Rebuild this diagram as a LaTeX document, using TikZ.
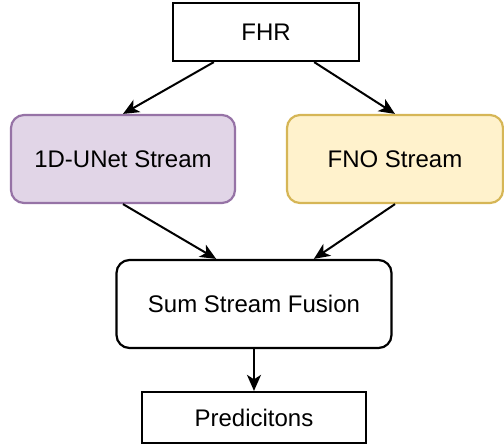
\documentclass[tikz,border=0pt]{standalone}
\usepackage{fontspec}
\setmainfont{Liberation Sans}
\usetikzlibrary{arrows.meta}

\definecolor{unetfill}{HTML}{E1D5E7}
\definecolor{unetline}{HTML}{9673A6}
\definecolor{fnofill}{HTML}{FFF2CC}
\definecolor{fnoline}{HTML}{D6B656}

\begin{document}
\begin{tikzpicture}[x=0.5pt, y=-0.5pt,
      box/.style = {draw, line width=1.1pt, inner sep=0pt, font=\fontsize{12}{14}\selectfont},
      stream/.style = {box, rounded corners=6.5pt, minimum height=44pt},
      link/.style = {->, line width=1pt},
      >={Stealth[length=8pt, width=7pt, inset=2.2pt]}]
      \useasboundingbox (0,0) rectangle (504,446);

      \node[box, minimum width=93pt, minimum height=29pt] (fhr) at (266,32) {FHR};
      \node[stream, minimum width=112pt, fill=unetfill, draw=unetline] (unet) at (123,159) {1D-UNet Stream};
      \node[stream, minimum width=108pt, fill=fnofill, draw=fnoline] (fno) at (395,159) {FNO Stream};
      \node[stream, minimum width=137.5pt] (fusion) at (254,304) {Sum Stream Fusion};
      \node[box, minimum width=112pt, minimum height=25.5pt] (pred) at (254,417.5) {Predicitons};

      \draw[link] (fhr.210) to (unet.north);
      \draw[link] (fhr.-32) to (fno.north);
      \draw[link] (unet.south) to (fusion.130);
      \draw[link] (fno.south) to (fusion.37);
      \draw[link] (fusion.south) to (pred.north);

    \end{tikzpicture}
\end{document}
